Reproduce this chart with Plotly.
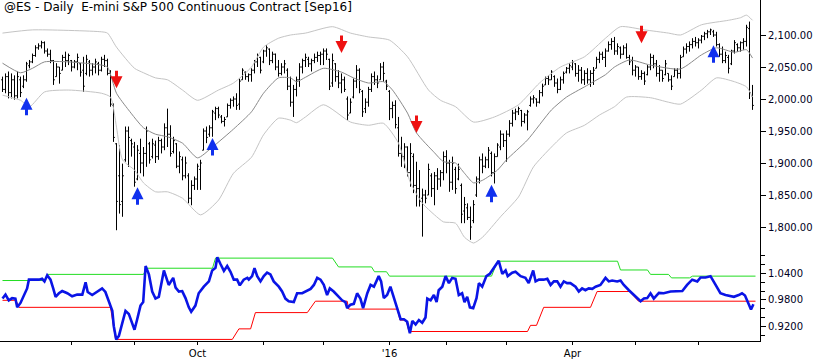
import plotly.graph_objects as go
from plotly.subplots import make_subplots

# ---------------- price bars (one per trading day, Jun 30 2015 .. Jun 27 2016) ----------------
opens = [
    2030, 2015, 2035, 2010, 2030, 2005, 2030, 2020, 2030, 2052,
    2058, 2068, 2080, 2083, 2088, 2075, 2070, 2060, 2035, 2050,
    2045, 2065, 2060, 2060, 2050, 2058, 2055, 2045, 2040, 2058,
    2045, 2050, 2055, 2045, 2062, 2060, 2040, 1990, 1930, 1880,
    1840, 1905, 1950, 1935, 1925, 1875, 1915, 1900, 1915, 1930,
    1910, 1928, 1910, 1935, 1925, 1955, 1945, 1918, 1930, 1895,
    1905, 1880, 1880, 1845, 1865, 1875, 1890, 1920, 1950, 1945,
    1955, 1978, 1985, 1972, 1965, 1972, 1990, 1998, 2000, 1992,
    2030, 2042, 2035, 2038, 2045, 2058, 2065, 2058, 2075, 2078,
    2060, 2070, 2050, 2040, 2050, 2045, 2020, 1995, 2015, 2030,
    2050, 2060, 2062, 2055, 2060, 2065, 2068, 2070, 2075, 2062,
    2025, 2055, 2035, 2025, 2030, 2000, 1978, 2003, 2028, 2045,
    2012, 1985, 1995, 2015, 2035, 2030, 2030, 2050, 2028, 2012,
    1985, 1990, 1955, 1915, 1910, 1925, 1885, 1910, 1865, 1860,
    1845, 1850, 1850, 1880, 1860, 1880, 1875, 1885, 1910, 1900,
    1870, 1890, 1875, 1865, 1825, 1830, 1815, 1810, 1850, 1875,
    1905, 1895, 1905, 1915, 1885, 1910, 1925, 1945, 1935, 1945,
    1962, 1978, 1980, 1982, 1965, 1975, 1990, 2000, 2000, 1995,
    2010, 2022, 2032, 2030, 2035, 2025, 2015, 2030, 2042, 2048,
    2050, 2055, 2040, 2045, 2030, 2040, 2030, 2040, 2048, 2062,
    2070, 2065, 2075, 2085, 2090, 2075, 2080, 2070, 2080, 2065,
    2060, 2045, 2050, 2035, 2040, 2038, 2050, 2065, 2055, 2040,
    2045, 2038, 2040, 2030, 2035, 2045, 2040, 2066, 2078, 2082,
    2085, 2090, 2088, 2092, 2098, 2102, 2105, 2105, 2100, 2085,
    2070, 2060, 2065, 2055, 2075, 2085, 2080, 2088, 2090, 2110,
    2005,
]
highs = [
    2035, 2040, 2043, 2040, 2037, 2043, 2035, 2037, 2058, 2061,
    2071, 2084, 2087, 2091, 2090, 2079, 2077, 2061, 2056, 2050,
    2069, 2074, 2071, 2061, 2061, 2071, 2056, 2066, 2069, 2061,
    2056, 2063, 2058, 2066, 2069, 2063, 2045, 1993, 1931, 1928,
    1899, 1957, 1957, 1938, 1933, 1928, 1938, 1925, 1957, 1933,
    1938, 1935, 1941, 1938, 1962, 1985, 1959, 1941, 1931, 1918,
    1910, 1910, 1884, 1873, 1879, 1899, 1905, 1954, 1957, 1959,
    1983, 1988, 1988, 1975, 1972, 1993, 2001, 2004, 2009, 2032,
    2048, 2043, 2040, 2048, 2061, 2071, 2066, 2077, 2084, 2079,
    2074, 2071, 2061, 2056, 2061, 2048, 2035, 2022, 2035, 2056,
    2063, 2071, 2066, 2063, 2071, 2074, 2074, 2079, 2079, 2063,
    2071, 2056, 2045, 2040, 2035, 2004, 2001, 2032, 2053, 2048,
    2014, 2001, 2019, 2040, 2043, 2037, 2056, 2058, 2030, 2014,
    1996, 1998, 1972, 1941, 1931, 1926, 1931, 1915, 1902, 1889,
    1860, 1858, 1899, 1884, 1886, 1892, 1889, 1918, 1920, 1905,
    1910, 1894, 1899, 1868, 1847, 1837, 1832, 1842, 1879, 1910,
    1915, 1910, 1925, 1918, 1915, 1931, 1951, 1946, 1951, 1967,
    1983, 1985, 1988, 1983, 1978, 1983, 2004, 2006, 2001, 2014,
    2024, 2035, 2037, 2045, 2037, 2032, 2035, 2043, 2050, 2056,
    2061, 2056, 2053, 2050, 2045, 2048, 2045, 2050, 2066, 2074,
    2074, 2079, 2090, 2095, 2097, 2087, 2082, 2084, 2087, 2069,
    2066, 2053, 2050, 2045, 2043, 2053, 2071, 2069, 2061, 2053,
    2045, 2061, 2040, 2037, 2048, 2048, 2069, 2082, 2087, 2090,
    2095, 2097, 2095, 2100, 2105, 2108, 2110, 2108, 2105, 2087,
    2082, 2074, 2069, 2077, 2092, 2087, 2090, 2095, 2116, 2121,
    2022,
]
lows = [
    2011, 2009, 2001, 2001, 1999, 2001, 2003, 2017, 2027, 2048,
    2056, 2066, 2077, 2079, 2071, 2066, 2056, 2022, 2035, 2024,
    2045, 2050, 2053, 2043, 2048, 2045, 2035, 2011, 2037, 2035,
    2037, 2040, 2037, 2043, 2050, 2037, 1988, 1933, 1795, 1821,
    1816, 1902, 1894, 1910, 1863, 1873, 1884, 1879, 1894, 1899,
    1907, 1900, 1905, 1915, 1920, 1925, 1910, 1915, 1892, 1884,
    1873, 1876, 1837, 1834, 1858, 1858, 1858, 1920, 1931, 1941,
    1941, 1967, 1970, 1962, 1957, 1972, 1985, 1988, 1983, 1983,
    2030, 2030, 2027, 2027, 2040, 2050, 2040, 2056, 2066, 2053,
    2056, 2045, 2035, 2037, 2040, 2014, 1988, 1972, 2004, 2019,
    2040, 2050, 2050, 2043, 2056, 2058, 2053, 2053, 2061, 2014,
    2019, 2027, 2017, 2009, 2011, 1967, 1978, 2001, 2017, 2009,
    1972, 1978, 1988, 2011, 2022, 2017, 2030, 2027, 2014, 1967,
    1970, 1954, 1910, 1894, 1892, 1879, 1863, 1853, 1832, 1832,
    1785, 1837, 1850, 1847, 1834, 1858, 1863, 1873, 1884, 1855,
    1858, 1852, 1873, 1806, 1806, 1811, 1780, 1806, 1847, 1868,
    1884, 1892, 1892, 1879, 1868, 1910, 1920, 1925, 1902, 1941,
    1957, 1967, 1975, 1957, 1962, 1951, 1988, 1993, 1988, 1993,
    2004, 2022, 2022, 2030, 2019, 2009, 2014, 2024, 2040, 2040,
    2045, 2035, 2027, 2024, 2022, 2024, 2019, 2022, 2048, 2056,
    2061, 2050, 2074, 2077, 2069, 2069, 2063, 2069, 2063, 2053,
    2037, 2035, 2030, 2030, 2022, 2037, 2045, 2048, 2035, 2027,
    2027, 2037, 2027, 2014, 2035, 2032, 2032, 2066, 2071, 2074,
    2079, 2082, 2079, 2087, 2092, 2095, 2100, 2097, 2082, 2066,
    2056, 2056, 2040, 2053, 2071, 2074, 2074, 2077, 2082, 2000,
    1983,
]
closes = [
    2015, 2035, 2010, 2030, 2005, 2035, 2010, 2030, 2055, 2058,
    2068, 2080, 2083, 2088, 2075, 2070, 2060, 2030, 2050, 2040,
    2065, 2060, 2068, 2050, 2058, 2065, 2042, 2020, 2062, 2045,
    2050, 2058, 2045, 2062, 2060, 2040, 1992, 1940, 1840, 1835,
    1880, 1950, 1940, 1930, 1870, 1920, 1900, 1915, 1950, 1905,
    1930, 1910, 1935, 1925, 1955, 1945, 1915, 1935, 1895, 1910,
    1880, 1900, 1845, 1865, 1875, 1895, 1900, 1950, 1940, 1955,
    1980, 1985, 1975, 1965, 1968, 1990, 1998, 2000, 1990, 2028,
    2045, 2035, 2038, 2045, 2058, 2068, 2045, 2075, 2080, 2060,
    2070, 2050, 2040, 2050, 2055, 2020, 1995, 2015, 2030, 2050,
    2060, 2065, 2055, 2060, 2065, 2068, 2070, 2075, 2070, 2020,
    2060, 2035, 2025, 2030, 2015, 1975, 1995, 2028, 2045, 2015,
    1980, 1995, 2015, 2035, 2030, 2025, 2050, 2040, 2020, 1985,
    1990, 1960, 1915, 1910, 1925, 1885, 1915, 1865, 1860, 1840,
    1850, 1845, 1890, 1860, 1880, 1875, 1885, 1910, 1900, 1870,
    1900, 1860, 1890, 1820, 1835, 1815, 1800, 1835, 1875, 1905,
    1895, 1905, 1920, 1885, 1910, 1928, 1945, 1935, 1945, 1962,
    1978, 1980, 1985, 1965, 1975, 1980, 2000, 2002, 1995, 2010,
    2020, 2032, 2030, 2042, 2025, 2015, 2030, 2040, 2048, 2052,
    2058, 2040, 2045, 2030, 2040, 2030, 2040, 2045, 2062, 2070,
    2065, 2075, 2085, 2090, 2075, 2082, 2070, 2080, 2065, 2058,
    2045, 2050, 2035, 2040, 2028, 2050, 2065, 2055, 2040, 2045,
    2032, 2055, 2030, 2020, 2045, 2040, 2065, 2078, 2082, 2085,
    2090, 2088, 2092, 2098, 2102, 2105, 2108, 2100, 2085, 2070,
    2060, 2068, 2048, 2075, 2088, 2080, 2088, 2090, 2112, 2010,
    1990,
]
bar_idx = list(range(len(closes)))

# ---------------- channel lines: (bar index, price) ----------------
upper_pts = [(0, 2103), (10, 2108), (33, 2105), (35, 2103), (38, 2081), (44, 2048), (47, 2041),
             (51, 2033), (55, 2030), (60, 2014), (65, 1998), (72, 2014), (77, 2025), (83, 2050),
             (87, 2081), (92, 2095), (96, 2100), (101, 2103), (110, 2113), (116, 2103), (122, 2097),
             (129, 2092), (135, 2066), (142, 2014), (146, 1998), (151, 1988), (157, 1964), (164, 1972),
             (172, 1991), (179, 2025), (186, 2050), (194, 2066), (201, 2095), (206, 2113), (214, 2108),
             (222, 2103), (226, 2100), (233, 2116), (242, 2123), (246, 2127), (248, 2131), (250, 2123)]
mid_pts = [(0, 2056), (6, 2041), (10, 2048), (14, 2058), (22, 2058), (33, 2053), (35, 2050), (38, 2009),
           (42, 1983), (47, 1955), (51, 1945), (55, 1941), (60, 1931), (65, 1908), (70, 1925), (77, 1953),
           (83, 1980), (87, 2009), (92, 2033), (96, 2033), (98, 2027), (101, 2034), (107, 2048), (113, 2042),
           (117, 2033), (122, 2025), (127, 2027), (130, 2014), (135, 1978), (138, 1947), (144, 1916),
           (147, 1902), (151, 1900), (154, 1884), (157, 1869), (160, 1873), (165, 1889), (168, 1905),
           (175, 1936), (183, 1983), (188, 2003), (194, 2019), (197, 2027), (201, 2038), (204, 2050),
           (209, 2061), (216, 2053), (226, 2047), (233, 2069), (238, 2080), (244, 2073), (248, 2077), (250, 2064)]
lower_pts = [(0, 2006), (6, 1998), (9, 1988), (14, 2011), (22, 2014), (33, 2009), (36, 2003), (38, 1956),
             (40, 1905), (44, 1889), (47, 1869), (51, 1855), (55, 1855), (60, 1845), (66, 1819), (72, 1842),
             (77, 1884), (83, 1909), (87, 1944), (92, 1970), (96, 1967), (98, 1963), (101, 1972), (107, 1991),
             (116, 1964), (122, 1959), (127, 1962), (132, 1931), (136, 1869), (140, 1837), (144, 1819),
             (147, 1808), (151, 1806), (154, 1784), (157, 1775), (160, 1784), (166, 1816), (172, 1847),
             (177, 1894), (183, 1925), (188, 1947), (194, 1959), (199, 1975), (204, 1988), (208, 2003),
             (216, 2002), (222, 1995), (226, 1992), (233, 2014), (238, 2033), (244, 2027), (248, 2019), (250, 2003)]

# ---------------- lower panel: ratio line and its envelope steps ----------------
ratio_pts = [(0, 0.983), (1, 0.992), (2.1, 0.979), (3.2, 0.984), (4.3, 0.983), (4.9, 0.963), (6, 0.973),
             (7.1, 0.991), (8.2, 1.006), (8.8, 1.026), (10.4, 1.026), (12.1, 1.026), (13.2, 1.028),
             (14, 1.022), (14.9, 1.036), (16, 1.026), (16.9, 1.006), (17.7, 0.987), (18.8, 0.995),
             (19.9, 1.000), (21.6, 0.995), (23.2, 0.988), (24.9, 0.992), (26.6, 0.992), (27.7, 1.020),
             (28.4, 0.998), (29.9, 0.991), (31.6, 0.998), (33.2, 1.006), (34.3, 0.998), (35.4, 0.979),
             (36.6, 0.955), (37.1, 0.920), (37.9, 0.890), (38.8, 0.898), (39.9, 0.928), (41, 0.955),
             (42.1, 0.948), (43.2, 0.928), (44, 0.912), (44.9, 0.936), (46, 0.967), (46.9, 0.975),
             (47.7, 1.057), (48.8, 1.038), (49.9, 0.999), (51, 0.983), (52.1, 0.987), (53.8, 1.047),
             (54.9, 1.022), (55.4, 1.014), (56.9, 1.030), (57.7, 1.008), (58.8, 0.999), (59.9, 1.000),
             (61, 0.984), (62.1, 0.963), (62.9, 0.953), (64.3, 0.967), (65.4, 0.995), (67.1, 1.010),
             (68.8, 1.022), (69.9, 1.047), (71, 1.053), (71.6, 1.077), (72.7, 1.061), (73.8, 1.046),
             (74.9, 1.057), (76, 1.044), (77.1, 1.026), (78.2, 1.026), (79.1, 1.013), (80.4, 1.026),
             (81.6, 1.030), (82.1, 1.026), (83.2, 1.034), (84, 1.052), (84.9, 1.034), (86, 1.022),
             (87.1, 1.034), (88.2, 1.042), (89.3, 1.038), (90.4, 1.022), (92.1, 1.010), (93.2, 0.999),
             (94.3, 0.983), (95.4, 0.977), (97.1, 0.975), (98.2, 0.995), (99.9, 0.995), (101.6, 1.002),
             (102.7, 1.005), (103.8, 1.014), (104.9, 1.030), (106, 1.026), (107.1, 1.014), (108.2, 0.991),
             (109.1, 1.006), (110.4, 0.999), (111.6, 0.991), (113.2, 0.979), (114.3, 0.975), (114.9, 0.961),
             (116, 0.969), (117.1, 0.971), (118.2, 0.995), (119.3, 0.983), (120.2, 0.961), (121.6, 0.995),
             (122.7, 1.014), (123.8, 1.010), (125.4, 1.034), (126.2, 1.022), (127.1, 0.984), (128.2, 0.991),
             (129.3, 1.010), (131, 0.971), (132.7, 0.936), (133.8, 0.936), (134.9, 0.930), (135.8, 0.904),
             (136.6, 0.932), (137.7, 0.924), (138.8, 0.934), (139.9, 0.928), (141, 0.940), (141.6, 0.983),
             (142.7, 0.979), (143.8, 0.991), (144.7, 0.975), (145.4, 1.002), (146.6, 1.010), (147.7, 1.034),
             (148.8, 1.018), (149.9, 1.030), (151, 1.028), (152.1, 0.991), (153.2, 0.995), (154, 0.975),
             (154.9, 0.987), (155.8, 0.963), (156.9, 0.961), (158, 0.984), (158.8, 1.018), (159.9, 1.010),
             (161.3, 1.034), (162.4, 1.039), (163.8, 1.053), (165.4, 1.069), (166.6, 1.039), (167.7, 1.047),
             (168.4, 1.034), (169.9, 1.042), (171, 1.044), (172.7, 1.034), (174.3, 1.030), (175.4, 1.018),
             (176.9, 1.047), (177.7, 1.022), (178.8, 1.026), (180.4, 1.026), (181.6, 1.028), (182.7, 1.014),
             (183.8, 1.022), (184.9, 1.022), (186, 1.010), (187.1, 1.022), (188.2, 1.018), (189.3, 1.018),
             (191, 1.010), (192.1, 0.999), (193.2, 1.006), (194.3, 1.002), (195.4, 1.006), (196.6, 1.005),
             (197.7, 1.010), (199.3, 1.014), (201, 1.030), (202.1, 1.022), (203.2, 1.024), (204.9, 1.022),
             (206, 1.024), (207.1, 1.014), (208.8, 1.002), (210.4, 0.991), (212.7, 0.977), (213.8, 0.983),
             (214.9, 0.984), (216, 0.995), (217.1, 0.983), (218.8, 0.996), (220.4, 0.995), (222.7, 0.999),
             (224.9, 1.000), (226.6, 1.000), (228.2, 1.014), (229.9, 1.026), (231.6, 1.022), (232.7, 1.031),
             (234.3, 1.031), (236, 1.034), (237.7, 1.014), (239.3, 0.995), (241, 0.991), (242.7, 0.989),
             (243.8, 0.987), (245.4, 0.991), (246.5, 0.995), (247.5, 0.990), (248.5, 0.975), (249.5, 0.958),
             (250.3, 0.970)]
upper_env_pts = [(0, 1.024), (14, 1.024), (15, 1.038), (47, 1.038), (48, 1.052), (70, 1.052), (71, 1.075),
                 (110, 1.075), (112, 1.055), (123, 1.055), (124, 1.044), (128, 1.044), (129, 1.034),
                 (163, 1.034), (165, 1.068), (205, 1.068), (206, 1.048), (215, 1.048), (216, 1.038),
                 (222, 1.038), (223, 1.030), (229, 1.030), (230, 1.034), (251, 1.034)]
lower_env_pts = [(0, 0.979), (4.5, 0.979), (5.5, 0.963), (36, 0.963), (37.7, 0.890), (76.6, 0.890),
                 (78.8, 0.914), (82.7, 0.914), (84.3, 0.951), (101.6, 0.951), (104.3, 0.977), (114.9, 0.977),
                 (115.4, 0.959), (131.6, 0.959), (132.5, 0.934), (134.5, 0.934), (135.5, 0.908), (175, 0.908),
                 (176, 0.922), (178, 0.922), (180.4, 0.963), (196, 0.963), (198.2, 0.999), (209, 0.999),
                 (212, 0.977), (251, 0.977)]

# ---------------- signal arrows ----------------
sell_idx = [38, 113, 138, 213]
sell_price = [2017, 2072, 1947, 2087]
buy_idx = [8, 45, 70, 163, 237]
buy_price = [2002, 1862, 1939, 1866, 2084]

# ---------------- axis labels ----------------
month_tick_idx = [23, 44, 65, 87, 107, 129, 148, 168, 190, 211, 232]
month_tick_text = ["", "", "Oct", "", "", "'16", "", "", "Apr", "", ""]
price_ticks = [1800, 1850, 1900, 1950, 2000, 2050, 2100]
price_tick_text = ["1,800.00", "1,850.00", "1,900.00", "1,950.00", "2,000.00", "2,050.00", "2,100.00"]
ratio_ticks = [0.92, 0.98, 1.04]
ratio_tick_text = ["0.9200", "0.9800", "1.0400"]
title_text = "@ES - Daily\u00a0\u00a0E-mini S&P 500 Continuous Contract [Sep16]"


def split(pts):
    return [p[0] for p in pts], [p[1] for p in pts]


FONT = "DejaVu Sans"
fig = make_subplots(rows=2, cols=1, shared_xaxes=True, vertical_spacing=0)

for pts, col in [(upper_pts, "#c4c4c4"), (lower_pts, "#c4c4c4"), (mid_pts, "#8a8a8a")]:
    xs, ys = split(pts)
    fig.add_trace(go.Scatter(x=xs, y=ys, mode="lines", line=dict(color=col, width=1, shape="spline", smoothing=0.6),
                             hoverinfo="skip"), row=1, col=1)

fig.add_trace(go.Ohlc(x=bar_idx, open=opens, high=highs, low=lows, close=closes, tickwidth=0.45,
                      increasing=dict(line=dict(color="black", width=1)),
                      decreasing=dict(line=dict(color="black", width=1))), row=1, col=1)

xs, ys = split(upper_env_pts)
fig.add_trace(go.Scatter(x=xs, y=ys, mode="lines", line=dict(color="#22dd22", width=1)), row=2, col=1)
xs, ys = split(lower_env_pts)
fig.add_trace(go.Scatter(x=xs, y=ys, mode="lines", line=dict(color="#ff0000", width=1)), row=2, col=1)
xs, ys = split(ratio_pts)
fig.add_trace(go.Scatter(x=xs, y=ys, mode="lines", line=dict(color="#0a14e6", width=2.6)), row=2, col=1)

anns = []
for xi, yi in zip(sell_idx, sell_price):
    anns.append(dict(x=xi, y=yi, xref="x", yref="y", ax=0, ay=-19, showarrow=True, text="",
                     arrowhead=2, arrowsize=0.8, arrowwidth=3, arrowcolor="#ee1111", standoff=0))
for xi, yi in zip(buy_idx, buy_price):
    anns.append(dict(x=xi, y=yi, xref="x", yref="y", ax=0, ay=19, showarrow=True, text="",
                     arrowhead=2, arrowsize=0.8, arrowwidth=3, arrowcolor="#1030ee", standoff=0))
anns.append(dict(x=0.002, y=1, xref="paper", yref="paper", xanchor="left", yanchor="top", showarrow=False,
                 text=title_text, font=dict(family=FONT, size=12, color="#000000"), yshift=2))

xr = [-2.5 / 3, (760 - 2.5) / 3]
fig.update_layout(
    width=816, height=360, margin=dict(l=0, r=56, t=0, b=19, autoexpand=False),
    paper_bgcolor="white", plot_bgcolor="white", showlegend=False,
    annotations=anns,
    font=dict(family=FONT, size=10, color="#000000"),
)
fig.update_xaxes(range=xr, showgrid=False, zeroline=False, rangeslider_visible=False, automargin=False)
fig.update_xaxes(row=1, col=1, showticklabels=False, ticks="", showline=False)
fig.update_xaxes(row=2, col=1, tickmode="array", tickvals=month_tick_idx, ticktext=month_tick_text,
                 ticks="outside", ticklen=3, tickcolor="black", showline=True, linecolor="black", linewidth=1,
                 tickfont=dict(family=FONT, size=10, color="#000000"))
fig.update_yaxes(automargin=False)
fig.update_yaxes(row=1, col=1, side="right", range=[1767.2, 2154.7], domain=[0.2727, 1.0],
                 tickmode="array", tickvals=price_ticks, ticktext=price_tick_text, ticks="outside", ticklen=5,
                 tickcolor="black", showline=True, linecolor="black", linewidth=1, showgrid=False, zeroline=False,
                 tickfont=dict(family=FONT, size=10, color="#000022"))
fig.update_yaxes(row=2, col=1, side="right", range=[0.8864, 1.098], domain=[0.0, 0.2727],
                 tickmode="array", tickvals=ratio_ticks, ticktext=ratio_tick_text, ticks="outside", ticklen=5,
                 tickcolor="black", showline=True, linecolor="black", linewidth=1, showgrid=False, zeroline=False,
                 minor=dict(tick0=0.92, dtick=0.02, ticks="outside", ticklen=4, tickcolor="black", showgrid=False),
                 tickfont=dict(family=FONT, size=10, color="#000022"))

fig.write_html("out.html", config={"displayModeBar": False},
               post_script="document.body.style.margin='0';document.body.style.overflow='hidden';")
